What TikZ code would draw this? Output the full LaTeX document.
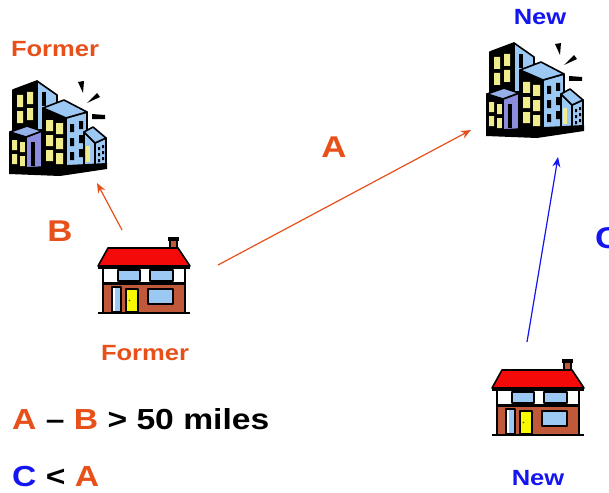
\documentclass[tikz,border=0pt]{standalone}
\usepackage{fontspec}
\usepackage{graphicx}
\setmainfont{Liberation Sans}
\usetikzlibrary{arrows.meta}
\definecolor{lbl}{HTML}{E8501A}
\definecolor{nblue}{HTML}{1515F0}
\definecolor{ltblue}{HTML}{9CC8F4}
\definecolor{purp}{HTML}{8C8CDC}
\definecolor{win}{HTML}{F0EC8C}
\definecolor{brick}{HTML}{C0583A}
\definecolor{roofred}{HTML}{F50A0A}
\definecolor{doory}{HTML}{F8F800}
\newcommand{\stretchtxt}[1]{\scalebox{1.16}[1]{#1}}
\tikzset{
  lab/.style={font=\bfseries\fontsize{22}{24}\selectfont, anchor=base, inner sep=0pt},
  letter/.style={font=\bfseries\fontsize{30}{32}\selectfont, anchor=base, inner sep=0pt},
  note/.style={font=\bfseries\fontsize{29}{31}\selectfont, anchor=base west, inner sep=0pt},
  arr/.style={-{Stealth[length=10pt,width=8pt]}, line width=1.2pt},
  outl/.style={draw=black, line width=1.6pt, line join=round},
  building/.pic={
    % back tower
    \filldraw[outl, fill=black] (13,90) -- (37,81) -- (37,140) -- (13,145) -- cycle;
    \fill[win] (17,95) rectangle (23,107) (17,111) rectangle (23,123) (27,92) rectangle (33,104) (27,108) rectangle (33,120);
    \filldraw[outl, fill=ltblue] (37,81) -- (57,95) -- (57,130) -- (37,130) -- cycle;
    \fill[black] (42,92) rectangle (46,106);
    % center building
    \filldraw[outl, fill=black] (43,108) -- (66,118) -- (66,168) -- (43,168) -- cycle;
    \fill[win] (46,120) rectangle (53,131) (56,123) rectangle (63,134)
               (46,135) rectangle (53,146) (56,138) rectangle (63,149)
               (46,150) rectangle (53,161) (56,153) rectangle (63,164);
    \filldraw[outl, fill=ltblue] (66,118) -- (87,112) -- (87,166) -- (66,168) -- cycle;
    \fill[black] (70,124) rectangle (74,132) (79,121) rectangle (83,129)
                 (70,138) rectangle (74,146) (79,135) rectangle (83,143)
                 (70,152) rectangle (74,160) (79,149) rectangle (83,157);
    \filldraw[outl, fill=ltblue] (43,108) -- (64,100) -- (87,112) -- (66,118) -- cycle;
    % front-left building
    \filldraw[outl, fill=black] (10,132) -- (26,137) -- (26,172) -- (10,170) -- cycle;
    \fill[win] (12,140) rectangle (17,150) (20,142) rectangle (25,152)
               (12,154) rectangle (17,164) (20,156) rectangle (25,166);
    \filldraw[outl, fill=purp] (26,137) -- (42,131) -- (42,170) -- (26,172) -- cycle;
    \fill[black] (31,142) rectangle (35,166);
    \filldraw[outl, fill=ltblue!60!purp] (10,132) -- (27,126) -- (42,131) -- (26,137) -- cycle;
    % right small building
    \filldraw[outl, fill=ltblue] (84,132) -- (95,143) -- (95,168) -- (84,168) -- cycle;
    \fill[win] (86,146) rectangle (90,162);
    \filldraw[outl, fill=ltblue] (95,143) -- (106,138) -- (106,164) -- (95,168) -- cycle;
    \fill[black] (98,147) rectangle (100,150) (102,145) rectangle (104,148)
                 (98,153) rectangle (100,156) (102,151) rectangle (104,154)
                 (98,159) rectangle (100,162) (102,157) rectangle (104,160);
    \filldraw[outl, fill=ltblue] (84,132) -- (93,127) -- (106,138) -- (95,143) -- cycle;
    % ground
    \fill[black] (9,168) -- (107,163) -- (107,169) -- (60,176) -- (9,174) -- cycle;
    % shine strokes
    \fill[black] (78,82) -- (84,81) -- (83,93) -- cycle;
    \fill[black] (97,93) -- (100,97) -- (87,103) -- cycle;
    \fill[black] (92,114) -- (105,115) -- (105,119) -- (92,119) -- cycle;
  },
  house/.pic={
    % chimney
    \filldraw[outl, fill=brick] (170,240) rectangle (177,252);
    \fill[black] (168,237) rectangle (179,241);
    % roof
    \filldraw[outl, fill=roofred] (108,248) -- (178,248) -- (190,266) -- (98,266) -- cycle;
    \fill[black] (98,265) rectangle (190,269);
    % body
    \filldraw[outl, fill=white] (103,268) rectangle (185,313);
    \filldraw[outl, line width=2.2pt, fill=ltblue] (118,270) rectangle (140,281);
    \filldraw[outl, line width=2.2pt, fill=ltblue] (150,270) rectangle (173,281);
    \fill[black] (103,282) rectangle (185,285);
    \fill[brick] (104,285) rectangle (184,312);
    \filldraw[outl, fill=ltblue] (112,287) rectangle (121,312);
    \fill[white] (113,288) rectangle (115,311);
    \filldraw[outl, fill=doory] (126,289) rectangle (138,312);
    \fill[black!70] (129.5,300.5) circle (0.9);
    \filldraw[outl, line width=2.2pt, fill=ltblue] (148,289) rectangle (173,304);
    \draw[black, line width=2.6pt] (98,313) -- (190,313);
  }
}
\begin{document}
\begin{tikzpicture}[x=1pt, y=-1pt]
\useasboundingbox (0,0) rectangle (609,492);
\fill[white] (0,0) rectangle (609,492);

\pic at (0,0) {building};
\pic at (477,-38) {building};
\pic at (0,0) {house};
\pic at (394,122) {house};

\node[lab, text=lbl] (formerTop) at (55,57) {\stretchtxt{Former}};
\node[lab, text=lbl] (formerBot) at (145,360) {\stretchtxt{Former}};
\node[lab, text=nblue] (newTop) at (540,25) {\stretchtxt{New}};
\node[lab, text=nblue] (newBot) at (538,485) {\stretchtxt{New}};

\node[letter, text=lbl] (labB) at (60,241) {\stretchtxt{B}};
\node[letter, text=lbl] (labA) at (334,157) {\stretchtxt{A}};
\node[letter, text=nblue, anchor=base west] (labC) at (595,248) {\stretchtxt{C}};

\coordinate (Btail) at (122,230);
\coordinate (Bhead) at (97,183);
\coordinate (Atail) at (218,265);
\coordinate (Ahead) at (471,130);
\coordinate (Ctail) at (527,342);
\coordinate (Chead) at (558,157);

\draw[arr, lbl] (Btail) -- (Bhead);
\draw[arr, lbl] (Atail) -- (Ahead);
\draw[arr, nblue] (Ctail) -- (Chead);

\node[note] (eq1) at (12,429) {\stretchtxt{\textcolor{lbl}{A} -- \textcolor{lbl}{B} > 50 miles}};
\node[note] (eq2) at (12,486) {\stretchtxt{\textcolor{nblue}{C} < \textcolor{lbl}{A}}};
\end{tikzpicture}
\end{document}
